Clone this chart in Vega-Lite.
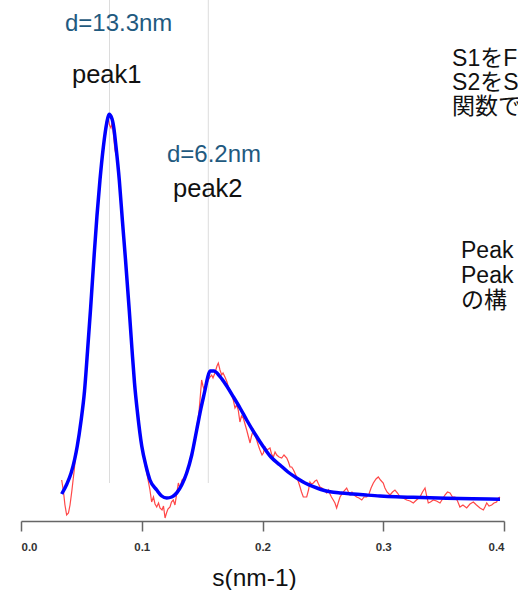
{
  "$schema": "https://vega.github.io/schema/vega-lite/v6.json",
  "width": 483,
  "height": 521,
  "autosize": "none",
  "padding": {"left": 21, "top": 0, "right": 14, "bottom": 69},
  "background": "white",
  "view": {"stroke": null},
  "config": {"font": "Liberation Sans, Arial, 'Noto Sans CJK JP'"},
  "datasets": {
    "guides": [
      {"s": 0.0733, "I0": 38, "I1": 521},
      {"s": 0.1551, "I0": 38, "I1": 521}
    ],
    "fit": [
      {"s": 0.0337, "I": 27}, {"s": 0.038, "I": 37}, {"s": 0.0415, "I": 48}, {"s": 0.0445, "I": 62},
      {"s": 0.0466, "I": 75}, {"s": 0.0497, "I": 100}, {"s": 0.0526, "I": 130}, {"s": 0.0551, "I": 170},
      {"s": 0.0576, "I": 212}, {"s": 0.0607, "I": 268}, {"s": 0.0629, "I": 305}, {"s": 0.0654, "I": 341},
      {"s": 0.0682, "I": 374}, {"s": 0.071, "I": 398}, {"s": 0.0729, "I": 406.7}, {"s": 0.0754, "I": 402},
      {"s": 0.077, "I": 392}, {"s": 0.0787, "I": 374}, {"s": 0.0814, "I": 341}, {"s": 0.084, "I": 300},
      {"s": 0.0865, "I": 262}, {"s": 0.0897, "I": 210}, {"s": 0.0919, "I": 172}, {"s": 0.094, "I": 138},
      {"s": 0.0965, "I": 108}, {"s": 0.1, "I": 75}, {"s": 0.1035, "I": 55}, {"s": 0.1068, "I": 41},
      {"s": 0.1124, "I": 31}, {"s": 0.1165, "I": 25}, {"s": 0.1207, "I": 23}, {"s": 0.1248, "I": 24},
      {"s": 0.1289, "I": 28}, {"s": 0.1331, "I": 36}, {"s": 0.1372, "I": 48}, {"s": 0.1414, "I": 66},
      {"s": 0.1455, "I": 91}, {"s": 0.1491, "I": 113}, {"s": 0.1524, "I": 131}, {"s": 0.1545, "I": 143},
      {"s": 0.1565, "I": 150}, {"s": 0.1598, "I": 150}, {"s": 0.1648, "I": 144.3}, {"s": 0.1698, "I": 136},
      {"s": 0.1758, "I": 124.3}, {"s": 0.1814, "I": 113}, {"s": 0.1869, "I": 101}, {"s": 0.1938, "I": 87},
      {"s": 0.2007, "I": 74.3}, {"s": 0.207, "I": 64}, {"s": 0.2145, "I": 56}, {"s": 0.2211, "I": 49},
      {"s": 0.2283, "I": 43}, {"s": 0.2352, "I": 38}, {"s": 0.2421, "I": 34.3}, {"s": 0.2484, "I": 31.5},
      {"s": 0.2559, "I": 29.3}, {"s": 0.265, "I": 28}, {"s": 0.2752, "I": 27}, {"s": 0.2857, "I": 26},
      {"s": 0.2973, "I": 25}, {"s": 0.3106, "I": 24.2}, {"s": 0.3249, "I": 23.7}, {"s": 0.3387, "I": 23.2},
      {"s": 0.3525, "I": 22.7}, {"s": 0.3743, "I": 22.2}, {"s": 0.3967, "I": 21.7}
    ],
    "obs": [
      {"s": 0.0337, "I": 41}, {"s": 0.0352, "I": 29}, {"s": 0.0364, "I": 16}, {"s": 0.0378, "I": 6},
      {"s": 0.0393, "I": 8}, {"s": 0.0406, "I": 16}, {"s": 0.0422, "I": 31}, {"s": 0.0439, "I": 49},
      {"s": 0.0455, "I": 68}, {"s": 0.048, "I": 88}, {"s": 0.0516, "I": 116}, {"s": 0.0551, "I": 168},
      {"s": 0.0576, "I": 206}, {"s": 0.0607, "I": 270}, {"s": 0.0629, "I": 305}, {"s": 0.0654, "I": 339},
      {"s": 0.0682, "I": 372}, {"s": 0.0721, "I": 403}, {"s": 0.0733, "I": 396}, {"s": 0.0745, "I": 393},
      {"s": 0.0754, "I": 398}, {"s": 0.0762, "I": 391}, {"s": 0.0778, "I": 371}, {"s": 0.0787, "I": 366},
      {"s": 0.0795, "I": 365}, {"s": 0.0814, "I": 340}, {"s": 0.084, "I": 301}, {"s": 0.0865, "I": 261},
      {"s": 0.0897, "I": 208}, {"s": 0.0919, "I": 171}, {"s": 0.094, "I": 136}, {"s": 0.0965, "I": 106},
      {"s": 0.1, "I": 73}, {"s": 0.1035, "I": 52}, {"s": 0.1068, "I": 31}, {"s": 0.1082, "I": 19},
      {"s": 0.1097, "I": 24}, {"s": 0.111, "I": 17}, {"s": 0.1124, "I": 14}, {"s": 0.1139, "I": 18},
      {"s": 0.1151, "I": 13}, {"s": 0.1168, "I": 11}, {"s": 0.118, "I": 15}, {"s": 0.1193, "I": 3},
      {"s": 0.1205, "I": 8}, {"s": 0.1217, "I": 12}, {"s": 0.1234, "I": 14}, {"s": 0.1246, "I": 19},
      {"s": 0.1261, "I": 21}, {"s": 0.1275, "I": 16}, {"s": 0.1288, "I": 26}, {"s": 0.1303, "I": 38},
      {"s": 0.1317, "I": 33}, {"s": 0.1333, "I": 41}, {"s": 0.135, "I": 43}, {"s": 0.1372, "I": 49},
      {"s": 0.14, "I": 59}, {"s": 0.1424, "I": 74}, {"s": 0.1455, "I": 93}, {"s": 0.1474, "I": 109},
      {"s": 0.1496, "I": 141}, {"s": 0.1507, "I": 135}, {"s": 0.1524, "I": 129}, {"s": 0.1536, "I": 136},
      {"s": 0.1551, "I": 141}, {"s": 0.1565, "I": 144}, {"s": 0.1579, "I": 146}, {"s": 0.159, "I": 143},
      {"s": 0.1606, "I": 148}, {"s": 0.1623, "I": 155}, {"s": 0.1634, "I": 158}, {"s": 0.1648, "I": 151},
      {"s": 0.1662, "I": 146}, {"s": 0.1673, "I": 148}, {"s": 0.1689, "I": 144}, {"s": 0.1706, "I": 139},
      {"s": 0.1717, "I": 134}, {"s": 0.1731, "I": 131}, {"s": 0.1743, "I": 126}, {"s": 0.1758, "I": 121},
      {"s": 0.1772, "I": 113}, {"s": 0.1785, "I": 116}, {"s": 0.1799, "I": 111}, {"s": 0.1813, "I": 99},
      {"s": 0.1826, "I": 105}, {"s": 0.1841, "I": 103}, {"s": 0.1855, "I": 97}, {"s": 0.1869, "I": 91},
      {"s": 0.1884, "I": 84}, {"s": 0.1897, "I": 78}, {"s": 0.1909, "I": 85}, {"s": 0.1924, "I": 91},
      {"s": 0.1938, "I": 86}, {"s": 0.1952, "I": 81}, {"s": 0.1967, "I": 75}, {"s": 0.1979, "I": 71},
      {"s": 0.1996, "I": 66}, {"s": 0.2007, "I": 68}, {"s": 0.2021, "I": 74}, {"s": 0.2037, "I": 71},
      {"s": 0.2062, "I": 73}, {"s": 0.2075, "I": 67}, {"s": 0.209, "I": 64}, {"s": 0.2104, "I": 69},
      {"s": 0.2118, "I": 66}, {"s": 0.2137, "I": 64}, {"s": 0.2159, "I": 63}, {"s": 0.2178, "I": 66},
      {"s": 0.2201, "I": 63}, {"s": 0.2215, "I": 59}, {"s": 0.2228, "I": 54}, {"s": 0.2242, "I": 54},
      {"s": 0.2257, "I": 51}, {"s": 0.2283, "I": 44}, {"s": 0.2298, "I": 39}, {"s": 0.2311, "I": 34},
      {"s": 0.2323, "I": 29}, {"s": 0.2338, "I": 24}, {"s": 0.2352, "I": 24}, {"s": 0.2366, "I": 24},
      {"s": 0.2381, "I": 31}, {"s": 0.2393, "I": 39}, {"s": 0.2406, "I": 37}, {"s": 0.2421, "I": 38},
      {"s": 0.2435, "I": 40}, {"s": 0.2449, "I": 41}, {"s": 0.2464, "I": 37}, {"s": 0.2476, "I": 34},
      {"s": 0.2493, "I": 33}, {"s": 0.2509, "I": 31}, {"s": 0.2532, "I": 28}, {"s": 0.2547, "I": 31},
      {"s": 0.2559, "I": 27}, {"s": 0.2571, "I": 24}, {"s": 0.2586, "I": 21}, {"s": 0.26, "I": 18},
      {"s": 0.2614, "I": 13}, {"s": 0.2629, "I": 19}, {"s": 0.2642, "I": 24}, {"s": 0.2658, "I": 27},
      {"s": 0.2675, "I": 30}, {"s": 0.2697, "I": 33}, {"s": 0.2712, "I": 29}, {"s": 0.2725, "I": 26},
      {"s": 0.2741, "I": 29}, {"s": 0.2758, "I": 26}, {"s": 0.278, "I": 24}, {"s": 0.2799, "I": 23},
      {"s": 0.2822, "I": 21}, {"s": 0.2841, "I": 24}, {"s": 0.2863, "I": 24}, {"s": 0.2882, "I": 27},
      {"s": 0.2899, "I": 33}, {"s": 0.2918, "I": 38}, {"s": 0.294, "I": 42}, {"s": 0.2959, "I": 44},
      {"s": 0.2977, "I": 41}, {"s": 0.3, "I": 38}, {"s": 0.3014, "I": 33}, {"s": 0.3031, "I": 29},
      {"s": 0.3056, "I": 26}, {"s": 0.3077, "I": 29}, {"s": 0.3097, "I": 31}, {"s": 0.3118, "I": 28},
      {"s": 0.3139, "I": 24}, {"s": 0.3164, "I": 23}, {"s": 0.3194, "I": 21}, {"s": 0.3222, "I": 20},
      {"s": 0.3249, "I": 18}, {"s": 0.3275, "I": 21}, {"s": 0.3304, "I": 24}, {"s": 0.3325, "I": 29},
      {"s": 0.3346, "I": 33}, {"s": 0.3358, "I": 26}, {"s": 0.3373, "I": 18}, {"s": 0.3391, "I": 19},
      {"s": 0.3414, "I": 21}, {"s": 0.3441, "I": 20}, {"s": 0.347, "I": 18}, {"s": 0.3491, "I": 22},
      {"s": 0.3511, "I": 26}, {"s": 0.3532, "I": 29}, {"s": 0.3553, "I": 28}, {"s": 0.3573, "I": 24},
      {"s": 0.3594, "I": 24}, {"s": 0.3615, "I": 20}, {"s": 0.3635, "I": 14}, {"s": 0.366, "I": 16},
      {"s": 0.3691, "I": 13}, {"s": 0.3718, "I": 17}, {"s": 0.3746, "I": 19}, {"s": 0.3772, "I": 16},
      {"s": 0.3801, "I": 13}, {"s": 0.3829, "I": 11}, {"s": 0.3842, "I": 14}, {"s": 0.3857, "I": 18},
      {"s": 0.3876, "I": 15}, {"s": 0.3898, "I": 16}, {"s": 0.3917, "I": 18}, {"s": 0.3939, "I": 19},
      {"s": 0.3954, "I": 23}, {"s": 0.3967, "I": 24}
    ],
    "labels": [
      {"s": 0.0364, "I": 490, "label": "d=13.3nm", "kind": "d"},
      {"s": 0.1209, "I": 359, "label": "d=6.2nm", "kind": "d"},
      {"s": 0.0422, "I": 438, "label": "peak1", "kind": "peak"},
      {"s": 0.1259, "I": 324, "label": "peak2", "kind": "peak"},
      {"s": 0.357, "I": 455, "label": "S1をF", "kind": "note"},
      {"s": 0.357, "I": 431, "label": "S2をS", "kind": "note"},
      {"s": 0.357, "I": 407, "label": "関数で", "kind": "note"},
      {"s": 0.3644, "I": 263, "label": "Peak", "kind": "note"},
      {"s": 0.3644, "I": 238, "label": "Peak", "kind": "note"},
      {"s": 0.3644, "I": 213, "label": "の構", "kind": "note"}
    ]
  },
  "layer": [
    {
      "data": {"name": "guides"},
      "mark": {"type": "rule", "color": "#dcdcdc", "strokeWidth": 1},
      "encoding": {
        "x": {"field": "s", "type": "quantitative", "scale": {"domain": [0, 0.4], "nice": false},
          "axis": {
            "values": [0, 0.1, 0.2, 0.3, 0.4], "format": ".1f", "grid": false,
            "domainColor": "#666666", "domainWidth": 1.5, "tickColor": "#666666", "tickWidth": 1.5, "tickSize": 10,
            "labelFontSize": 11.5, "labelFontWeight": "bold", "labelColor": "#333333", "labelPadding": 10, "labelDx": 3,
            "title": "s(nm-1)", "titleFontSize": 24.5, "titleFontWeight": "normal", "titleColor": "#111111",
            "titleX": 233, "titleY": 64, "titleBaseline": "alphabetic"
          }},
        "y": {"field": "I0", "type": "quantitative", "scale": {"domain": [0, 521], "nice": false}, "axis": null},
        "y2": {"field": "I1"}
      }
    },
    {
      "data": {"name": "obs"},
      "mark": {"type": "line", "color": "#ff3333", "strokeWidth": 1.2, "opacity": 0.9},
      "encoding": {
        "x": {"field": "s", "type": "quantitative"},
        "y": {"field": "I", "type": "quantitative"}
      }
    },
    {
      "data": {"name": "fit"},
      "mark": {"type": "line", "color": "#0000ff", "strokeWidth": 3.5, "interpolate": "monotone"},
      "encoding": {
        "x": {"field": "s", "type": "quantitative"},
        "y": {"field": "I", "type": "quantitative"}
      }
    },
    {
      "data": {"name": "labels"},
      "transform": [{"filter": "datum.kind === 'd'"}],
      "mark": {"type": "text", "align": "left", "baseline": "alphabetic", "fontSize": 24, "color": "#1f5a80"},
      "encoding": {
        "x": {"field": "s", "type": "quantitative"},
        "y": {"field": "I", "type": "quantitative"},
        "text": {"field": "label"}
      }
    },
    {
      "data": {"name": "labels"},
      "transform": [{"filter": "datum.kind === 'peak'"}],
      "mark": {"type": "text", "align": "left", "baseline": "alphabetic", "fontSize": 25.5, "color": "#111111"},
      "encoding": {
        "x": {"field": "s", "type": "quantitative"},
        "y": {"field": "I", "type": "quantitative"},
        "text": {"field": "label"}
      }
    },
    {
      "data": {"name": "labels"},
      "transform": [{"filter": "datum.kind === 'note'"}],
      "mark": {"type": "text", "align": "left", "baseline": "alphabetic", "fontSize": 23, "color": "#111111"},
      "encoding": {
        "x": {"field": "s", "type": "quantitative"},
        "y": {"field": "I", "type": "quantitative"},
        "text": {"field": "label"}
      }
    }
  ]
}
